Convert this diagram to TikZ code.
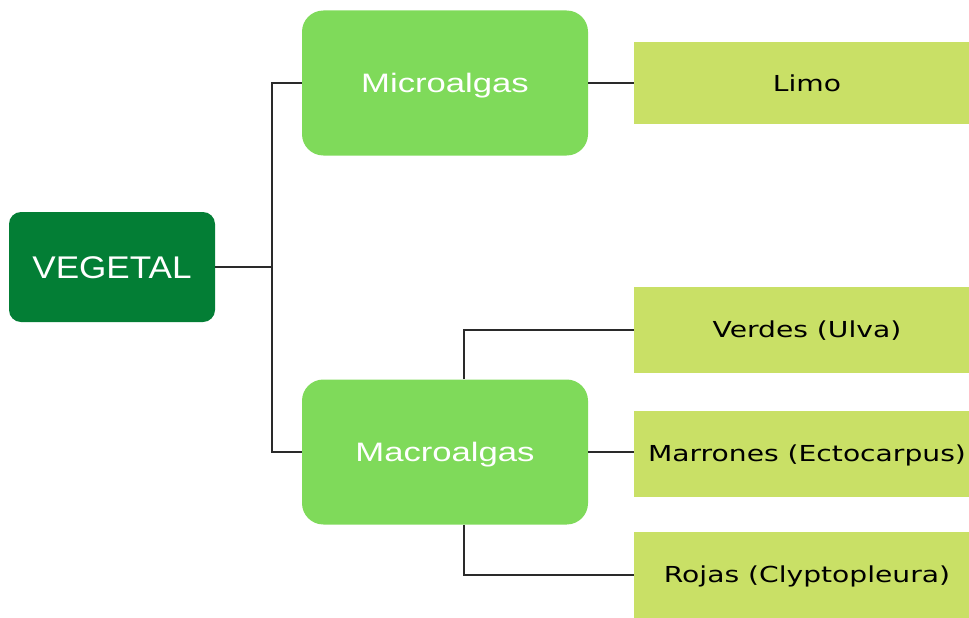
\documentclass[tikz,border=0pt]{standalone}
\usepackage{fontspec}
\newfontfamily\headfont[FakeStretch=1.12]{Liberation Sans}
\newfontfamily\midfont[FakeStretch=1.3]{Liberation Sans}
\newfontfamily\leaffont[FakeStretch=1.28]{DejaVu Sans}
\definecolor{rootgreen}{HTML}{037E35}
\definecolor{midgreen}{HTML}{7FDA5A}
\definecolor{leafgreen}{HTML}{C9E066}
\definecolor{linegray}{HTML}{2A2A2A}
\tikzset{
  rootbox/.style={fill=rootgreen, rounded corners=9pt, minimum width=154.5pt, minimum height=82.5pt, text=white, text height=16.6pt, text depth=0pt, font=\headfont\fontsize{23.5}{26}\selectfont},
  midbox/.style={fill=midgreen, rounded corners=16pt, minimum width=214.5pt, minimum height=108.75pt, text=white, text height=14.3pt, text depth=0pt, font=\midfont\fontsize{20}{24}\selectfont},
  leafbox/.style={fill=leafgreen, minimum width=259.5pt, minimum height=64.5pt, text=black, text height=12pt, text depth=0pt, font=\leaffont\fontsize{16.5}{20}\selectfont},
  conn/.style={draw=linegray, line width=1.5pt}
}
\begin{document}
\begin{tikzpicture}[x=0.75pt,y=-0.75pt]
\useasboundingbox (0,0) rectangle (969,617);
\node[rootbox] (veg) at (112,267) {VEGETAL};
\node[midbox] (micro) at (445,83) {Microalgas};
\node[midbox] (macro) at (445,452) {Macroalgas};
\node[leafbox, minimum height=61.5pt] (limo) at (807,83) {Limo};
\node[leafbox] (verdes) at (807,329.5) {Verdes (Ulva)};
\node[leafbox] (marrones) at (807,453.5) {Marrones (Ectocarpus)};
\node[leafbox] (rojas) at (807,574.5) {Rojas (Clyptopleura)};
\coordinate (j) at (272,267);
\draw[conn] (veg.east) -- (j);
\draw[conn] (micro.west) -| (j) |- (macro.west);
\draw[conn] (micro.east) -- (limo.west);
\draw[conn] ([xshift=14.25pt]macro.north) |- (verdes.west);
\draw[conn] (macro.east) -- (macro.east -| marrones.west);
\draw[conn] ([xshift=14.25pt]macro.south) |- (rojas.west);
\end{tikzpicture}
\end{document}
